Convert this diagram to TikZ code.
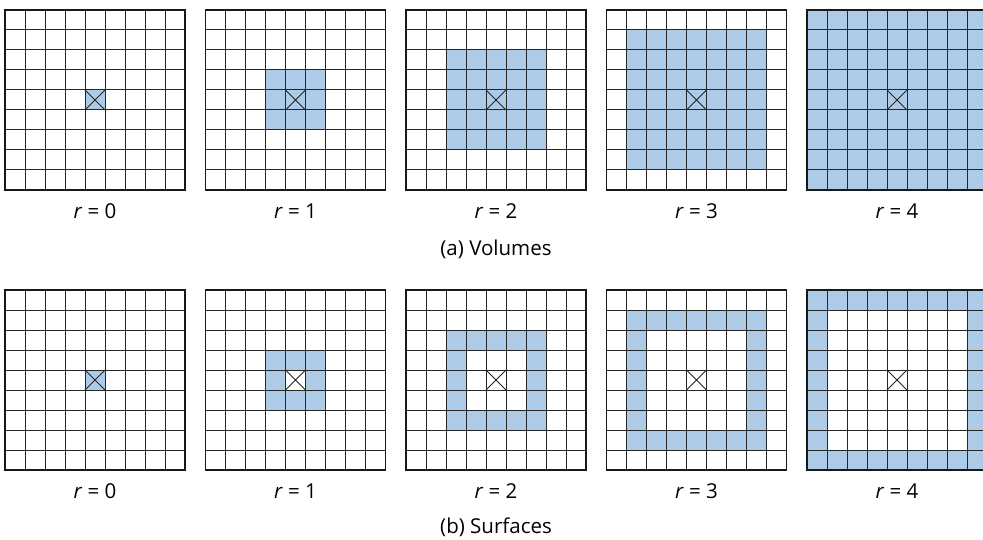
\documentclass[tikz,border=0pt]{standalone}
\usepackage{fontspec}
\setmainfont{Open Sans}
\definecolor{cellblue}{RGB}{173,203,230}
\begin{document}
\begin{tikzpicture}[x=1pt,y=-1pt,
  gridline/.style={draw=black!85, line width=1pt},
  border/.style={draw=black!90,line width=1.2pt},
  crossline/.style={draw=black!85,line width=0.8pt},
  lbl/.style={font=\fontsize{20.5}{24}\selectfont, inner sep=0pt, anchor=center}]
\useasboundingbox (0,0) rectangle (983,540);
\foreach \i in {0,...,4}{
  \pgfmathsetmacro\xo{5+200.5*\i}
  \pgfmathtruncatemacro\n{2*\i+1}
  \fill[cellblue] ({\xo+80-20*\i},{90-20*\i}) rectangle ++({20*\n},{20*\n});
  \fill[cellblue] ({\xo+80-20*\i},{370-20*\i}) rectangle ++({20*\n},{20*\n});
  \ifnum\i>0 \fill[white] ({\xo+100-20*\i},{390-20*\i}) rectangle ++({20*(\n-2)},{20*(\n-2)}); \fi
  \foreach \yo/\nm in {10/a,290/b}{
    \foreach \k in {1,...,8}{
      \draw[gridline] ({\xo+20*\k},\yo) -- ++(0,180);
      \draw[gridline] (\xo,{\yo+20*\k}) -- ++(180,0);
    }
    \draw[border] (\xo,\yo) rectangle ++(180,180);
    \draw[crossline] ({\xo+80},{\yo+80}) -- ++(20,20) ({\xo+100},{\yo+80}) -- ++(-20,20);
    \node[lbl] (lbl\nm\i) at ({\xo+90},{\yo+201.5}) {\textit{r} = \i};
  }
}
\node[lbl] (capa) at (496,249) {(a) Volumes};
\node[lbl] (capb) at (496,527) {(b) Surfaces};
\end{tikzpicture}
\end{document}
